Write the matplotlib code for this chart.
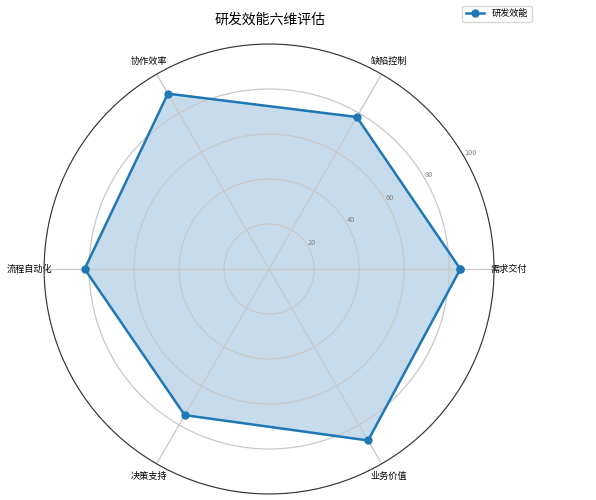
import numpy as np
import matplotlib
matplotlib.use('Agg')
import matplotlib.pyplot as plt

plt.rcParams['font.family'] = ['Noto Sans CJK SC', 'DejaVu Sans']

# 六个维度及得分
categories = ['需求交付', '缺陷控制', '协作效率', '流程自动化', '决策支持', '业务价值']
scores = [85, 78, 90, 82, 75, 88]
r_ticks = [20, 40, 60, 80, 100]

angles = np.linspace(0, 2 * np.pi, len(categories), endpoint=False).tolist()
vals = scores + scores[:1]
ang = angles + angles[:1]

fig = plt.figure(figsize=(5.96, 5.0), dpi=100)
ax = fig.add_axes([0.074, 0.012, 0.755, 0.9], polar=True)

ax.plot(ang, vals, 'o-', color='#1f77b4', linewidth=1.8, markersize=5, label='研发效能')
ax.fill(ang, vals, color='#1f77b4', alpha=0.25)

ax.set_xticks(angles)
ax.set_xticklabels(categories, fontsize=6.6)
ax.tick_params(axis='x', pad=0)
ax.set_ylim(0, 100)
ax.set_yticks(r_ticks)
ax.set_yticklabels([str(t) for t in r_ticks], fontsize=5.3, color='gray')
ax.set_rlabel_position(30)
ax.grid(True, color='#c8c8c8', linewidth=0.9)
ax.spines['polar'].set_color('#333333')

fig.text(0.453, 0.96, '研发效能六维评估', ha='center', va='center', fontsize=10)
fig.legend(loc='upper right', bbox_to_anchor=(0.9, 0.998), fontsize=6.6)

fig.savefig('out.png', dpi=100)
